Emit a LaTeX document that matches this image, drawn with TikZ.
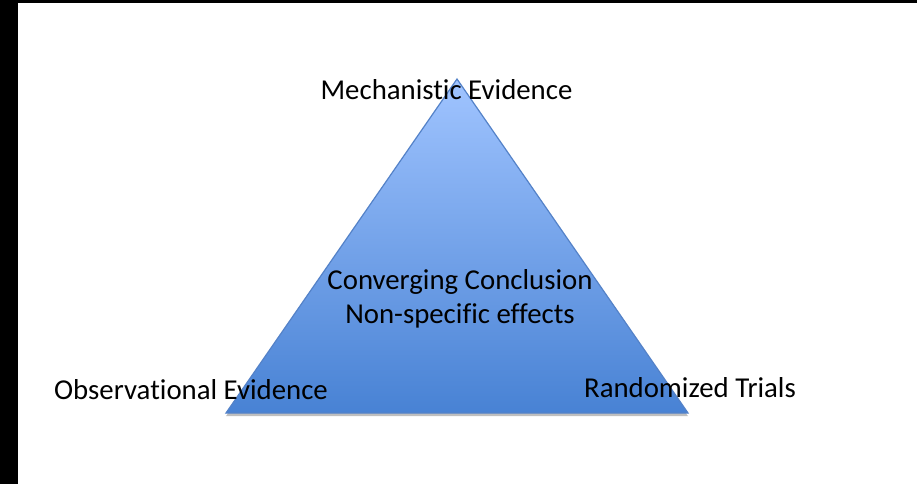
\documentclass[tikz,border=0pt]{standalone}
\usepackage{fontspec}
\setmainfont{Carlito}[Ligatures={NoCommon}]
\usepackage{tikz}
\usetikzlibrary{shadows}
\definecolor{tritop}{RGB}{160,196,255}
\definecolor{tribot}{RGB}{72,130,212}
\definecolor{triedge}{RGB}{84,130,200}
\tikzstyle{tri}=[draw=triedge, line width=0.6pt, top color=tritop,
                 bottom color=tribot, line join=miter,
                 drop shadow={shadow xshift=0pt, shadow yshift=-1.6pt,
                 opacity=0.25, fill=black}]
\tikzstyle{lbl}=[inner sep=0, text=black, font=\fontsize{14.4pt}{17pt}\selectfont,
                 align=center]

\begin{document}
\begin{tikzpicture}[x=0.5pt,y=-0.5pt]
\path[use as bounding box] (0,0) rectangle (917,484);
\fill[white] (0,0) rectangle (917,484);
% frame bars
\fill[black] (0,0) rectangle (18,484);
\fill[black] (0,0) rectangle (917,3);
% the triangle
\coordinate (l) at (226,413);
\coordinate (r) at (688,413);
\coordinate (t) at (457,79);
\path[tri] (l) -- (r) -- (t) -- cycle;
% corner and centre labels
\node[lbl] (mech) at (446.5,90) {Mechanistic Evidence};
\node[lbl] (obs) at (191,390) {Observational Evidence};
\node[lbl] (rand) at (690,388) {Randomized Trials};
\node[lbl] (conc) at (460,299) {Converging Conclusion\\Non-specific effects};
\end{tikzpicture}
\end{document}
